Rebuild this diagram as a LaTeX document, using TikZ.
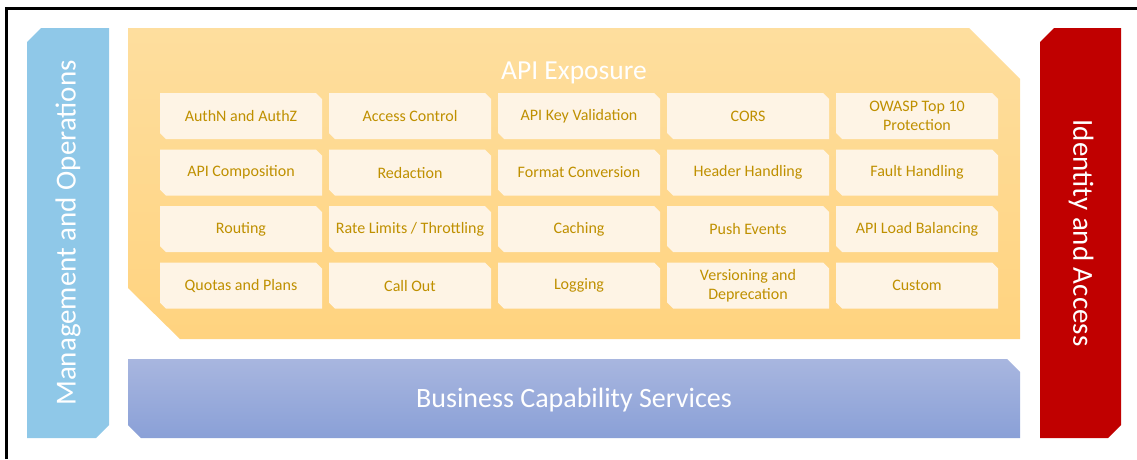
\documentclass[tikz,border=0pt]{standalone}
\usepackage{fontspec}
\setmainfont{Carlito}

\definecolor{mgmtblue}{RGB}{143,200,232}
\definecolor{idred}{RGB}{192,0,0}
\definecolor{apitop}{RGB}{254,222,158}
\definecolor{apibot}{RGB}{255,211,127}
\definecolor{bcstop}{RGB}{168,182,223}
\definecolor{bcsbot}{RGB}{138,160,215}
\definecolor{boxfill}{RGB}{254,244,229}
\definecolor{boxtext}{RGB}{191,144,0}

% one capability cell: name, x, y, text
\newcommand{\capcell}[4]{%
  \fill[boxfill] (#2-81,#3-23) -- (#2+75,#3-23) -- (#2+81,#3-17) -- (#2+81,#3+23)
    -- (#2-75,#3+23) -- (#2-81,#3+17) -- cycle;
  \node[captext] (#1) at (#2,#3) {#4};}

\begin{document}
\begin{tikzpicture}[x=1pt, y=-1pt,
  captext/.style={text=boxtext, font=\fontsize{16}{19}\selectfont, align=center, inner sep=0pt},
  bigtext/.style={text=white, font=\fontsize{28}{30}\selectfont}]
  \useasboundingbox (0,0) rectangle (1137,459);

  % frame
  \draw[line width=2.6pt] (6.5,459) -- (6.5,8.5) -- (1137,8.5);

  % side bars
  \fill[mgmtblue] (27,42) -- (41,28) -- (109,28) -- (109,425) -- (96,438) -- (27,438) -- cycle;
  \node[bigtext, font=\fontsize{29}{30}\selectfont, rotate=90] (mgmt) at (68,233) {Management and Operations};

  \fill[idred] (1040,42) -- (1054,28) -- (1121,28) -- (1121,425) -- (1108,438) -- (1040,438) -- cycle;
  \node[bigtext, font=\fontsize{29}{30}\selectfont, rotate=-90] (idacc) at (1081,233) {Identity and Access};

  % API exposure layer
  \shade[top color=apitop, bottom color=apibot] (128,28) -- (969,28) -- (1020,79) -- (1020,339)
    -- (180,339) -- (128,288) -- cycle;
  \node[bigtext, font=\fontsize{27.5}{30}\selectfont] (api) at (574,73) {API Exposure};

  % business capability services
  \shade[top color=bcstop, bottom color=bcsbot] (128,359) -- (1007,359) -- (1020,372) -- (1020,438)
    -- (141,438) -- (128,425) -- cycle;
  \node[bigtext] (bcs) at (574,400) {Business Capability Services};

  % capabilities
  \foreach \lbl [count=\c] in {AuthN and AuthZ, Access Control, API Key Validation, CORS, {OWASP Top 10\\Protection}}
    {\capcell{cap-1-\c}{72+169*\c}{116}{\lbl}}
  \foreach \lbl [count=\c] in {API Composition, Redaction, Format Conversion, Header Handling, Fault Handling}
    {\capcell{cap-2-\c}{72+169*\c}{172.5}{\lbl}}
  \foreach \lbl [count=\c] in {Routing, Rate Limits / Throttling, Caching, Push Events, API Load Balancing}
    {\capcell{cap-3-\c}{72+169*\c}{229}{\lbl}}
  \foreach \lbl [count=\c] in {Quotas and Plans, Call Out, Logging, {Versioning and\\Deprecation}, Custom}
    {\capcell{cap-4-\c}{72+169*\c}{285.5}{\lbl}}
\end{tikzpicture}
\end{document}
